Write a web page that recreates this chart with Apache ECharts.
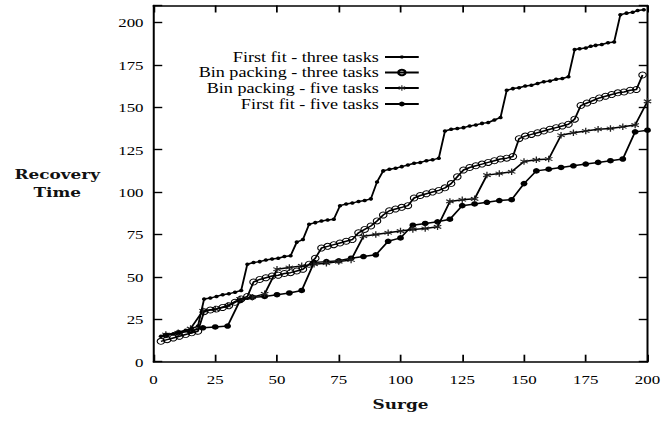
<!DOCTYPE html>
<html><head><meta charset="utf-8">
<script src="https://cdn.jsdelivr.net/npm/echarts@6/dist/echarts.min.js"></script>
<style>
html,body{margin:0;padding:0;background:#fff;overflow:hidden}
#wrap{width:665px;height:422px;overflow:hidden}
#c{width:532px;height:422px;transform:scaleX(1.25);transform-origin:0 0}
</style>
</head><body><div id="wrap"><div id="c"></div></div>
<script>
// ---- data ----
const seriesNames = ['First fit - three tasks','Bin packing - three tasks','Bin packing - five tasks','First fit - five tasks'];
const xTickValues = [0,25,50,75,100,125,150,175,200];
const yTickValues = [0,25,50,75,100,125,150,175,200];

const ffThreeX = [3,5.5,8,10.5,13,15.5,18,20.5,23,25.5,28,30.5,33,35.5,38,40.5,43,45.5,48,50.5,53,55.5,58,60.5,63,65.5,68,70.5,73,75.5,78,80.5,83,85.5,88,90.5,93,95.5,98,100.5,103,105.5,108,110.5,113,115.5,118,120.5,123,125.5,128,130.5,133,135.5,138,140.5,143,145.5,148,150.5,153,155.5,158,160.5,163,165.5,168,170.5,172.5,175,177,179,181.5,184,186.5,189,191.5,194,196,198.5];
const ffThreeY = [15,16,16.5,17.5,18.5,19.5,21,37,37.5,38.5,39.5,40,41,42,57.5,58.5,59,60,60.5,61,62,62.5,70.5,72,81,82,83,83.5,84,92,93,93.5,94.5,95,96,106,112.5,113.5,114,115,116,117,117.5,118.5,119,120,136,137,137.5,138,139,139.5,140.5,141,142.5,144,160,161,161.5,162.5,163,164,165,165.5,166.5,167,168,184,184.5,185,186,186.5,187,188,188.5,204.5,205.5,206,207,207.5];

const bpThreeX = [3,5.5,8,10.5,13,15.5,18,20.5,23,25.5,28,30.5,33,35.5,38,40.5,43,45.5,48,50.5,53,55.5,58,60.5,63,65.5,68,70.5,73,75.5,78,80.5,83,85.5,88,90.5,93,95.5,98,100.5,103,105.5,108,110.5,113,115.5,118,120.5,123,125.5,128,130.5,133,135.5,138,140.5,143,145.5,148,150.5,153,155.5,158,160.5,163,165.5,168,170.5,173,175.5,178,180.5,183,185.5,188,190.5,193,195.5,198];
const bpThreeY = [12,13,14,15,16,17,18,29.5,30.5,31,32,33,35,37,38.5,47,48.5,49.5,50.5,51,52,52.5,53.5,54.5,57.5,61,67,68,69,70,71,72,76,78,80,83,86.5,89,90,91,92,96.5,98,99,100,101,102.5,105,109,113,114.5,115.5,116.5,117.5,118.5,119.5,120,121,131.5,133,134,135,136,137,138,139,140,143,151,152.5,154,155.5,156.5,157.5,158.5,159,160,160.5,169];

const fiveX = [5,10,15,20,25,30,35,40,45,50,55,60,65,70,75,80,85,90,95,100,105,110,115,120,125,130,135,140,145,150,155,160,165,170,175,180,185,190,195,200];
const bpFiveY = [16,17,19.5,30,31,33,37,38,40,54.5,55.5,56.5,57.5,58,59,60,74,75,76,77,78,78.5,79.5,94.5,95.5,96,110,111,112,118,119,119.5,133.5,135,136,137,137.5,138.5,139.5,153.5];
const ffFiveY = [15.5,17,18,20,20.5,21,36,38,38.5,39.5,40.5,42,58.5,59,59.5,61,62,63,71,73,80.5,81.5,82.5,84,92,93,94,95,95.5,105,112.5,113.5,114.5,115.5,116.5,117.5,118.5,119.5,135.5,136.5];

// ---- chart ----
const serif = 'Liberation Serif';
const titleFont = 'DejaVu Serif';
const starPath = 'path://M8.5,0L11.5,0L11.5,20L8.5,20Z M0.59,6.30L2.09,3.70L19.41,13.70L17.91,16.30Z M2.09,16.30L0.59,13.70L17.91,3.70L19.41,6.30Z';
const pairs = (xs, ys) => xs.map((x, i) => [x, ys[i]]);

const seriesDefs = [
  {data: pairs(ffThreeX, ffThreeY), symbol: 'circle', symbolSize: 3.5, itemStyle: {color: '#000'}},
  {data: pairs(bpThreeX, bpThreeY), symbol: 'circle', symbolSize: 6, itemStyle: {color: 'rgba(255,255,255,0)', borderColor: '#000', borderWidth: 0.9}},
  {data: pairs(fiveX, bpFiveY), symbol: starPath, symbolSize: 6.5, itemStyle: {color: '#222'}},
  {data: pairs(fiveX, ffFiveY), symbol: 'circle', symbolSize: 5.5, itemStyle: {color: '#000'}}
];

const legendCenters = [56.5, 72, 87.5, 103.5];
const legendIconH = [4, 7, 7, 6];

const axisCommon = {
  type: 'value',
  splitLine: {show: false},
  axisLine: {show: true, onZero: false, lineStyle: {color: '#000', width: 1.6}},
  axisTick: {show: true, inside: true, length: 7, lineStyle: {color: '#000', width: 1.4}}
};

const chart = echarts.init(document.getElementById('c'), null, {renderer: 'svg'});
chart.setOption({
  animation: false,
  backgroundColor: '#fff',
  grid: {left: 122.8, right: 14, top: 5.5, bottom: 60.3, containLabel: false},
  xAxis: [
    Object.assign({}, axisCommon, {
      position: 'bottom', min: xTickValues[0], max: xTickValues[xTickValues.length - 1], interval: 25,
      name: 'Surge', nameLocation: 'middle', nameGap: 43,
      nameTextStyle: {fontFamily: titleFont, fontWeight: 'bold', fontSize: 13.5, color: '#111', verticalAlign: 'middle'},
      axisLabel: {show: true, margin: 10, fontFamily: serif, fontSize: 13.5, color: '#000'}
    }),
    Object.assign({}, axisCommon, {
      position: 'top', min: 0, max: 200, interval: 25, axisLabel: {show: false}
    })
  ],
  yAxis: [
    Object.assign({}, axisCommon, {
      position: 'left', min: 0, max: 210, interval: 25,
      name: 'Recovery\nTime', nameLocation: 'middle', nameRotate: 0, nameGap: 77,
      nameTextStyle: {fontFamily: titleFont, fontWeight: 'bold', fontSize: 13.5, color: '#111', align: 'center', verticalAlign: 'middle', lineHeight: 18},
      axisLabel: {show: true, margin: 8, fontFamily: serif, fontSize: 13.5, color: '#000',
        formatter: v => (yTickValues.indexOf(v) >= 0 ? String(v) : '')}
    }),
    Object.assign({}, axisCommon, {
      position: 'right', min: 0, max: 210, interval: 25, axisLabel: {show: false}
    })
  ],
  legend: seriesNames.map((n, i) => ({
    data: [n], right: 196, top: legendCenters[i] - 7, orient: 'horizontal', align: 'right',
    padding: 0, itemGap: 0, itemWidth: 27, itemHeight: legendIconH[i], selectedMode: false,
    textStyle: {fontFamily: serif, fontSize: 14.5, color: '#000', lineHeight: 14}
  })),
  series: seriesDefs.map((s, i) => ({
    name: seriesNames[i], type: 'line', xAxisIndex: 0, yAxisIndex: 0,
    data: s.data, symbol: s.symbol, symbolSize: s.symbolSize, showSymbol: true, showAllSymbol: true,
    lineStyle: {color: '#000', width: 1.5}, itemStyle: s.itemStyle,
    emphasis: {disabled: true}, z: 10 - i
  }))
});
</script>
</body></html>
